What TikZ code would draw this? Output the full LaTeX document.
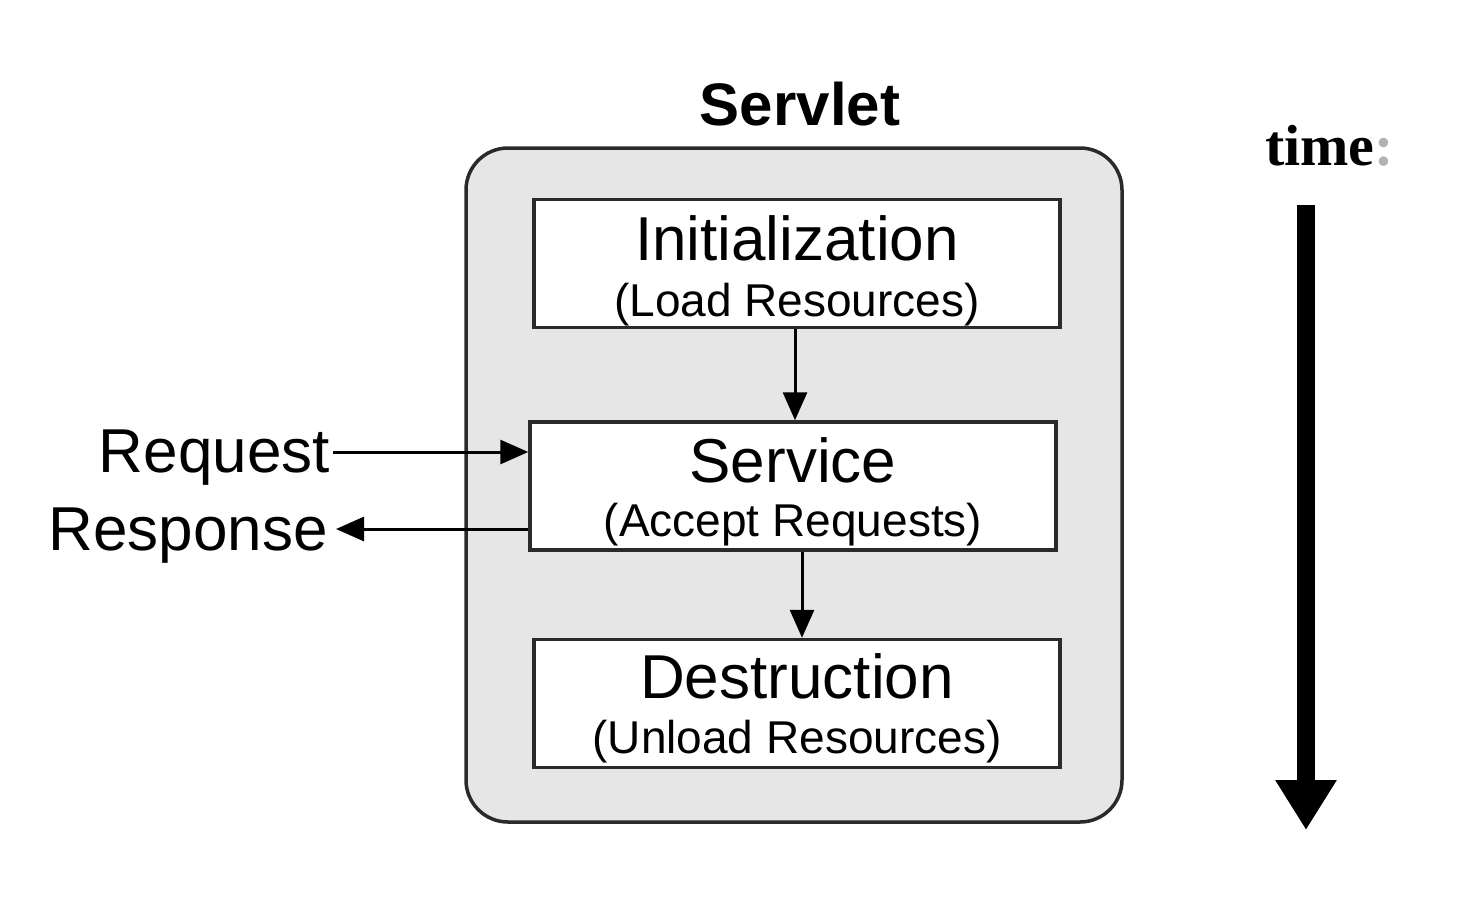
\documentclass[tikz,border=0pt]{standalone}
\usepackage{fontspec}
\setmainfont{Liberation Sans}
\newfontfamily\serifbold{Liberation Serif}
\usetikzlibrary{arrows.meta,calc}
\definecolor{outerfill}{HTML}{E6E6E6}
\definecolor{edge}{HTML}{2A2A2A}
\tikzset{
  stagebox/.style={draw=edge,line width=3.5pt,fill=white,minimum width=526pt,minimum height=128pt,inner sep=0pt},
  big/.style={font=\fontsize{62}{62}\selectfont,inner sep=0pt},
  small/.style={font=\fontsize{46}{46}\selectfont,inner sep=0pt},
  flow/.style={draw=black,line width=3pt,-{Triangle[length=28pt,width=24pt]}},
}
\begin{document}
\begin{tikzpicture}[x=1pt,y=-1pt]
\useasboundingbox[fill=white] (0,0) rectangle (1460,906);
% outer servlet container
\node[draw=edge,line width=3.5pt,fill=outerfill,rounded corners=42pt,minimum width=656pt,minimum height=674pt,inner sep=0pt] (servlet) at (794,485) {};
\node[font=\bfseries\fontsize{60}{60}\selectfont,inner sep=0pt,anchor=base] (title) at (800,125) {Servlet};
% stage boxes
\node[stagebox] (init) at (797,263.5) {};
\node[stagebox] (service) at (793,486) {};
\node[stagebox] (destr) at (797,703.5) {};
\node[big,anchor=base] (initT) at (797,260) {Initialization};
\node[small,anchor=base] (initS) at (797,316) {(Load Resources)};
\node[big,anchor=base] (servT) at (793,482) {Service};
\node[small,anchor=base] (servS) at (793,536) {(Accept Requests)};
\node[big,anchor=base] (destT) at (797,698) {Destruction};
\node[small,anchor=base] (destS) at (797,753) {(Unload Resources)};
% vertical flow
\draw[flow] (init.south -| 795,0) -- (service.north -| 795,0);
\draw[flow] (service.south -| 802,0) -- (destr.north -| 802,0);
% request / response
\node[big,anchor=base east] (req) at (330,472) {Request};
\node[big,anchor=base east] (resp) at (328,550) {Response};
\coordinate (reqstart) at (333,452);
\coordinate (respend) at (336,529);
\draw[flow] (reqstart) -- (reqstart -| service.west);
\draw[flow] (respend -| service.west) -- (respend);
% time axis
\node[font=\serifbold\bfseries\fontsize{58}{58}\selectfont,inner sep=0pt,anchor=base west] (time) at (1265,165) {time\textcolor{black!30}{:}};
\coordinate (tstart) at (1306,205);
\coordinate (tend) at (1306,830);
\draw[line width=18pt,-{Triangle[length=50pt,width=58pt]}] (tstart) -- (tend);
\end{tikzpicture}
\end{document}
